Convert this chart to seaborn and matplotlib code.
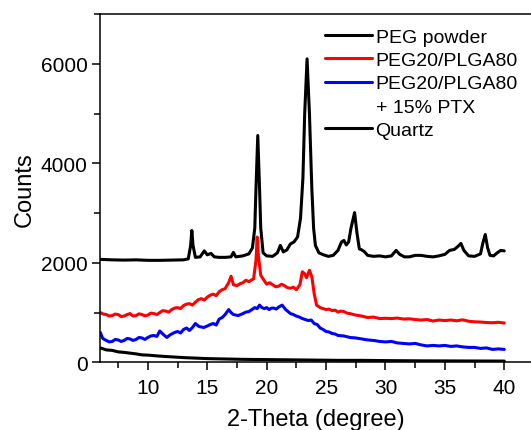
import matplotlib
matplotlib.use("Agg")
import matplotlib.pyplot as plt
from matplotlib.lines import Line2D
from matplotlib.ticker import MultipleLocator
import seaborn as sns

# =========================================================
# Data
# =========================================================
peg_x = [6.0, 7.0, 8.0, 9.0, 10.0, 11.0, 12.0, 13.0, 13.4, 13.6, 13.7, 13.8, 14.0, 14.4,
         14.75, 15.0, 15.3, 15.6, 16.0, 16.5, 17.0, 17.2, 17.4, 18.0, 18.5, 18.8, 19.0,
         19.1, 19.25, 19.4, 19.5, 19.7, 20.0, 20.5, 20.9, 21.15, 21.4, 21.7, 22.0, 22.3,
         22.6, 22.85, 23.05, 23.2, 23.4, 23.6, 23.8, 23.95, 24.1, 24.4, 24.8, 25.2, 25.6,
         26.0, 26.3, 26.5, 26.7, 26.9, 27.1, 27.4, 27.6, 27.8, 28.0, 28.2, 28.5, 29.0,
         29.5, 30.0, 30.5, 30.9, 31.2, 31.6, 32.0, 32.5, 33.0, 33.5, 34.0, 34.5, 35.0,
         35.4, 35.8, 36.1, 36.35, 36.6, 37.0, 37.5, 38.0, 38.2, 38.4, 38.6, 38.8, 39.1,
         39.4, 39.7, 40.0]
peg_y = [2070, 2060, 2055, 2060, 2050, 2050, 2055, 2060, 2080, 2350, 2650, 2350, 2110, 2120,
         2240, 2160, 2190, 2120, 2110, 2110, 2120, 2210, 2120, 2140, 2180, 2300, 2700,
         3500, 4560, 3500, 2700, 2200, 2140, 2130, 2200, 2350, 2220, 2260, 2380, 2420,
         2520, 2900, 3700, 5000, 6100, 5000, 3500, 2700, 2350, 2200, 2160, 2130, 2150,
         2250, 2420, 2450, 2360, 2420, 2700, 3010, 2600, 2280, 2260, 2230, 2150, 2130,
         2140, 2120, 2140, 2250, 2170, 2120, 2120, 2150, 2150, 2130, 2120, 2140, 2170,
         2250, 2270, 2330, 2390, 2250, 2140, 2130, 2180, 2400, 2570, 2300, 2150, 2140,
         2200, 2250, 2240]

blend_x = [6.0, 6.25, 6.5, 6.75, 7.0, 7.25, 7.5, 7.75, 8.0, 8.25, 8.5, 8.75, 9.0, 9.25,
           9.5, 9.75, 10.0, 10.25, 10.5, 10.75, 11.0, 11.25, 11.5, 11.75, 12.0, 12.25,
           12.5, 12.75, 13.0, 13.25, 13.5, 13.75, 14.0, 14.25, 14.5, 14.75, 15.0, 15.25,
           15.5, 15.75, 16.0, 16.25, 16.5, 16.8, 17.0, 17.2, 17.5, 17.75, 18.0, 18.25,
           18.5, 18.75, 18.9, 19.1, 19.2, 19.3, 19.5, 19.8, 20.0, 20.25, 20.5, 20.75, 21.0,
           21.25, 21.5, 21.75, 22.0, 22.25, 22.5, 22.8, 23.0, 23.2, 23.35, 23.6, 23.8, 24.0,
           24.2, 24.5, 24.75, 25.0, 25.25, 25.5, 25.75, 26.0, 26.25, 26.5, 26.75, 27.0,
           27.5, 28.0, 28.5, 29.0, 29.5, 30.0, 30.5, 31.0, 31.5, 32.0, 32.5, 33.0, 33.5,
           34.0, 34.5, 35.0, 35.5, 36.0, 36.5, 37.0, 37.5, 38.0, 38.5, 39.0, 39.5, 40.0]
blend_y = [1000, 970, 960, 930, 940, 970, 960, 920, 930, 960, 980, 930, 940, 975,
           960, 935, 950, 990, 980, 960, 1000, 1040, 1030, 1010, 1060, 1090,
           1100, 1080, 1140, 1170, 1180, 1150, 1210, 1260, 1280, 1250, 1310, 1350,
           1370, 1340, 1420, 1460, 1480, 1600, 1730, 1560, 1540, 1580, 1600, 1650,
           1620, 1660, 1680, 2050, 2520, 2150, 1750, 1640, 1570, 1600, 1560, 1520, 1530,
           1570, 1540, 1500, 1490, 1510, 1460, 1560, 1820, 1780, 1700, 1850, 1720, 1380,
           1150, 1100, 1080, 1060, 1070, 1040, 1050, 1010, 1030, 1020, 990, 980,
           950, 930, 900, 910, 880, 885, 880, 890, 870, 875, 860, 850,
           860, 830, 850, 840, 850, 835, 855, 825, 815, 810, 800, 795, 805, 790]

ptx_x = [6.0, 6.2, 6.5, 6.75, 7.0, 7.25, 7.5, 7.75, 8.0, 8.25, 8.5, 8.75, 9.0, 9.25, 9.5,
         9.75, 10.0, 10.25, 10.5, 10.75, 11.0, 11.3, 11.6, 11.8, 12.0, 12.25, 12.5, 12.75,
         13.0, 13.25, 13.5, 13.75, 14.0, 14.3, 14.7, 15.0, 15.25, 15.5, 15.75, 16.0, 16.25,
         16.5, 16.8, 17.0, 17.2, 17.6, 18.0, 18.25, 18.5, 18.75, 19.0, 19.2, 19.4, 19.6,
         19.8, 20.0, 20.2, 20.4, 20.6, 20.8, 21.0, 21.3, 21.6, 22.0, 22.25, 22.5, 22.75,
         23.0, 23.25, 23.5, 23.75, 24.0, 24.25, 24.5, 24.75, 25.0, 25.25, 25.5, 25.75,
         26.0, 26.5, 27.0, 27.5, 28.0, 28.5, 29.0, 29.5, 30.0, 30.5, 31.0, 31.5, 32.0,
         32.5, 33.0, 33.5, 34.0, 34.5, 35.0, 35.5, 36.0, 36.5, 37.0, 37.5, 38.0, 38.5,
         39.0, 39.5, 40.0]
ptx_y = [600, 480, 440, 410, 420, 460, 450, 420, 440, 480, 470, 440, 460, 500, 490,
         460, 500, 530, 540, 520, 630, 560, 500, 540, 570, 600, 620, 590,
         660, 690, 640, 700, 780, 720, 700, 730, 760, 780, 750, 870, 900,
         960, 1060, 1000, 960, 940, 980, 1010, 1020, 1060, 1100, 1080, 1150, 1100,
         1080, 1100, 1060, 1090, 1090, 1070, 1110, 1150, 1060, 980, 960, 930, 910,
         880, 860, 840, 850, 780, 760, 690, 660, 620, 610, 580, 570,
         540, 530, 500, 490, 470, 450, 440, 420, 410, 420, 390, 380, 370,
         380, 350, 330, 340, 330, 340, 320, 330, 310, 300, 300, 280, 290,
         260, 270, 260]

quartz_x = [6.0, 6.5, 7.0, 7.5, 8.0, 8.5, 9.0, 9.5, 10.0, 11.0, 12.0, 13.0, 14.0, 15.0,
            16.0, 17.0, 18.0, 20.0, 22.0, 24.0, 26.0, 28.0, 30.0, 33.0, 36.0, 40.0]
quartz_y = [290, 250, 240, 210, 200, 185, 170, 150, 145, 125, 110, 95, 85, 75,
            70, 65, 60, 55, 50, 45, 40, 40, 35, 30, 28, 25]

series = [
    ("PEG powder", peg_x, peg_y, "black"),
    ("PEG20/PLGA80", blend_x, blend_y, "#ff0000"),
    ("PEG20/PLGA80 + 15% PTX", ptx_x, ptx_y, "#0000ff"),
    ("Quartz", quartz_x, quartz_y, "black"),
]

# =========================================================
# Plot
# =========================================================
sns.set_theme(style="ticks")
plt.rcParams["font.family"] = ["Liberation Sans", "DejaVu Sans"]
plt.rcParams["text.color"] = "black"
plt.rcParams["axes.labelcolor"] = "black"

fig = plt.figure(figsize=(5.31, 4.31), dpi=100)
ax = fig.add_axes([0.189, 0.157, 0.811, 0.808])

for name, xs, ys, color in series:
    sns.lineplot(x=xs, y=ys, color=color, lw=2.2, ax=ax, sort=False)

ax.set_xlim(6, 42.25)
ax.set_ylim(0, 7000)
ax.xaxis.set_major_locator(MultipleLocator(5))
ax.xaxis.set_minor_locator(MultipleLocator(2.5))
ax.yaxis.set_major_locator(MultipleLocator(2000))
ax.yaxis.set_minor_locator(MultipleLocator(1000))
ax.set_xticks([10, 15, 20, 25, 30, 35, 40])
ax.tick_params(which="major", direction="out", length=6, width=1.1, labelsize=15,
               color="black", labelcolor="black", pad=3)
ax.tick_params(axis="x", which="major", pad=5)
ax.tick_params(which="minor", direction="out", length=4, width=1.1, color="black")

for side in ["left", "bottom", "top"]:
    ax.spines[side].set_linewidth(1.1)
    ax.spines[side].set_color("black")
ax.spines["right"].set_visible(False)

ax.set_xlabel("2-Theta (degree)", fontsize=17, color="black", labelpad=8)
ax.set_ylabel("Counts", fontsize=17, color="black", labelpad=4)

handles = [
    Line2D([], [], color="black", lw=2.2),
    Line2D([], [], color="#ff0000", lw=2.2),
    Line2D([], [], color="#0000ff", lw=2.2),
    Line2D([], [], color="none", lw=2.2),
    Line2D([], [], color="black", lw=2.2),
]
labels = ["PEG powder", "PEG20/PLGA80", "PEG20/PLGA80", "+ 15% PTX", "Quartz"]
leg = ax.legend(handles, labels, loc="upper left", bbox_to_anchor=(0.612, 0.932),
                bbox_transform=fig.transFigure, frameon=False, fontsize=14,
                handlelength=2.4, handletextpad=0.2, labelspacing=0.29,
                borderpad=0, borderaxespad=0)
for t in leg.get_texts():
    t.set_color("black")

fig.savefig("out.png", dpi=100)
